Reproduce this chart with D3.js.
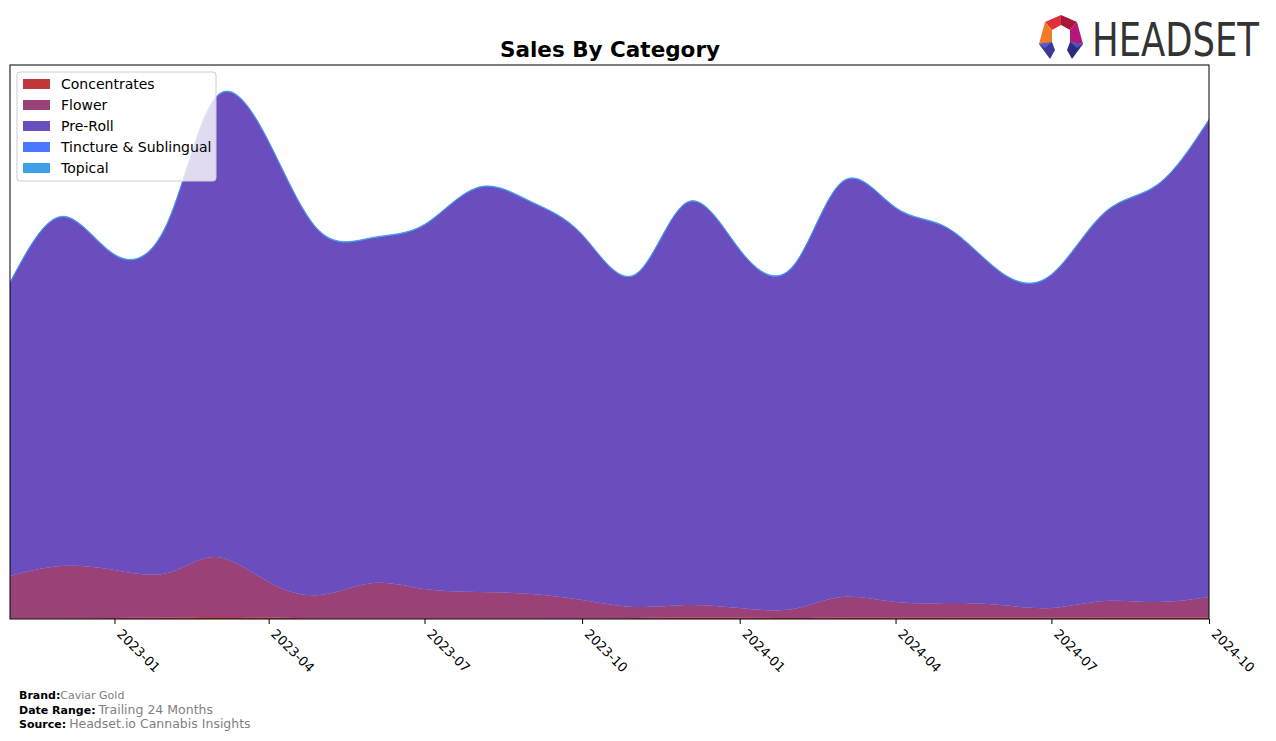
<!DOCTYPE html>
<html>
<head>
<meta charset="utf-8">
<script src="https://cdn.jsdelivr.net/npm/d3@7"></script>
<style>
  html, body { margin: 0; padding: 0; background: #fff; }
  svg { display: block; font-family: "DejaVu Sans", sans-serif; }
</style>
</head>
<body>
<svg id="chart" width="1276" height="741"></svg>
<script>
// ---- data ----
const months = ["2022-11","2022-12","2023-01","2023-02","2023-03","2023-04","2023-05","2023-06",
  "2023-07","2023-08","2023-09","2023-10","2023-11","2023-12","2024-01","2024-02","2024-03",
  "2024-04","2024-05","2024-06","2024-07","2024-08","2024-09","2024-10"];
const categories = ["Concentrates","Flower","Pre-Roll","Tincture & Sublingual","Topical"];
const concentrates = [0.5,0.5,1,1.5,2,1.5,0.5,0.3,0.3,0.3,0.3,0.3,1,1.5,1.5,1,1.5,1.5,1.5,1.5,1.5,1.5,1.5,1.5];
const flower = [42.5,52.5,48,44.5,60,35.5,23.5,35.7,29.7,26.7,24.7,18.7,11,12.5,9.5,9,20.5,15.5,14.5,12.5,9.5,16.5,15.5,20.5];
const preRoll = [293,349,315,350,459,440,363,345,364,404,392,365,332,402,358,342,415,394,375,333,333,388,417,477];
const tincture = [0.3,0.3,0.3,0.3,0.3,0.3,0.3,0.3,0.3,0.3,0.3,0.3,0.3,0.3,0.3,0.3,0.3,0.3,0.3,0.3,0.3,0.3,0.3,0.3];
const topical = [0.5,0.5,0.5,0.5,0.5,0.5,0.5,0.5,0.5,0.5,0.5,0.5,0.5,0.5,0.5,0.5,0.5,0.5,0.5,0.5,0.5,0.5,0.5,0.5];
const tickLabels = ["2023-01","2023-04","2023-07","2023-10","2024-01","2024-04","2024-07","2024-10"];
const colors = ["#c1373a","#9a4277","#6a4ebe","#4a77ff","#3ea0e8"];

// ---- layout ----
const svg = d3.select("#chart");
const L = 10, R = 1209, T = 65, B = 619;
const parse = d3.timeParse("%Y-%m");
const rows = months.map((m, i) => ({
  date: parse(m),
  "Concentrates": concentrates[i],
  "Flower": flower[i],
  "Pre-Roll": preRoll[i],
  "Tincture & Sublingual": tincture[i],
  "Topical": topical[i]
}));

const x = d3.scaleTime().domain([parse("2022-11"), parse("2024-10")]).range([L, R]);
const y = d3.scaleLinear().domain([0, 554]).range([B, T]);

const stack = d3.stack().keys(categories)(rows);
const area = d3.area()
  .x(d => x(d.data.date))
  .y0(d => y(d[0]))
  .y1(d => y(d[1]))
  .curve(d3.curveNatural);

svg.append("defs").append("clipPath").attr("id","clip")
  .append("rect").attr("x", L).attr("y", T).attr("width", R - L).attr("height", B - T);

const g = svg.append("g").attr("clip-path","url(#clip)");
g.selectAll("path.layer").data(stack).join("path")
  .attr("class","layer")
  .attr("d", area)
  .attr("fill", (d, i) => colors[i])
  .attr("stroke", (d, i) => colors[i])
  .attr("stroke-width", (d, i) => i >= 3 ? 0.8 : 0.4)
  .attr("stroke-opacity", 0.6);

// frame
svg.append("rect").attr("x", L).attr("y", T).attr("width", R - L).attr("height", B - T)
  .attr("fill","none").attr("stroke","#000").attr("stroke-width",1);

// x axis
const tickDates = tickLabels.map(parse);
const xAxis = d3.axisBottom(x).tickValues(tickDates).tickSize(5).tickFormat(d3.timeFormat("%Y-%m"));
const ax = svg.append("g").attr("transform", `translate(0,${B})`).call(xAxis);
ax.select(".domain").remove();
ax.selectAll(".tick line").attr("stroke","#000");
ax.selectAll(".tick text")
  .attr("font-size", 13)
  .attr("font-family","DejaVu Sans, sans-serif")
  .attr("fill","#000")
  .attr("text-anchor","start")
  .attr("dy", null)
  .attr("y", 0)
  .attr("dominant-baseline","hanging")
  .attr("transform","translate(8,9) rotate(45)");

// title
svg.append("text").attr("x", 610).attr("y", 57).attr("text-anchor","middle")
  .attr("font-size", 21.5).attr("font-weight","bold").attr("fill","#000")
  .text("Sales By Category");

// legend
const lg = svg.append("g");
lg.append("rect").attr("x", 17).attr("y", 72).attr("width", 199).attr("height", 109)
  .attr("rx", 3).attr("fill","#fff").attr("fill-opacity",0.8)
  .attr("stroke","#cccccc").attr("stroke-width",1);
categories.forEach((c, i) => {
  const yy = 84 + i * 21;
  lg.append("rect").attr("x", 23).attr("y", yy - 5).attr("width", 27).attr("height", 10)
    .attr("fill", colors[i]);
  lg.append("text").attr("x", 61).attr("y", yy + 5).attr("font-size", 14).attr("fill","#000")
    .text(c);
});

// footer
const foot = [
  ["Brand:", "Caviar Gold", 699, 11],
  ["Date Range:", "Trailing 24 Months", 714, 12.5],
  ["Source:", "Headset.io Cannabis Insights", 728, 12.5]
];
foot.forEach(([k, v, yy, fs]) => {
  const t = svg.append("text").attr("x", 19).attr("y", yy).attr("font-size", 11);
  t.append("tspan").attr("font-weight","bold").attr("fill","#000").text(k);
  t.append("tspan").attr("fill","#808080").attr("font-size", fs).attr("dx", k === "Brand:" ? 0 : 3).text(v);
});

// logo
const logo = svg.append("g");
const polys = [
  {p:[[1045,22],[1061,15],[1061,25],[1052,30]], c:"#e0303a"},
  {p:[[1061,15],[1077,22],[1070,30],[1061,25]], c:"#a8163c"},
  {p:[[1045,22],[1052,30],[1052,42],[1039,44]], c:"#f47a26"},
  {p:[[1077,22],[1083,44],[1070,42],[1070,30]], c:"#b5187a"},
  {p:[[1039,44],[1052,42],[1055,50],[1050,59]], c:"#3a3a9a"},
  {p:[[1039,44],[1052,42],[1045,48]], c:"#5c5ccc"},
  {p:[[1083,44],[1070,42],[1067,50],[1072,59]], c:"#2d2d80"},
  {p:[[1083,44],[1070,42],[1077,48]], c:"#5050c0"}
];
polys.forEach(o => logo.append("polygon").attr("points", o.p.map(q => q.join(",")).join(" ")).attr("fill", o.c));
const lt = logo.append("text").attr("x", 0).attr("y", 0).attr("font-size", 46)
  .attr("font-family","DejaVu Sans Condensed, sans-serif").attr("font-stretch","condensed")
  .attr("fill","#333").text("HEADSET");
const natW = lt.node().getComputedTextLength() || 167;
const sx = 167 / natW;
lt.attr("transform", `translate(1092,56) scale(${sx},1)`);
</script>
</body>
</html>
